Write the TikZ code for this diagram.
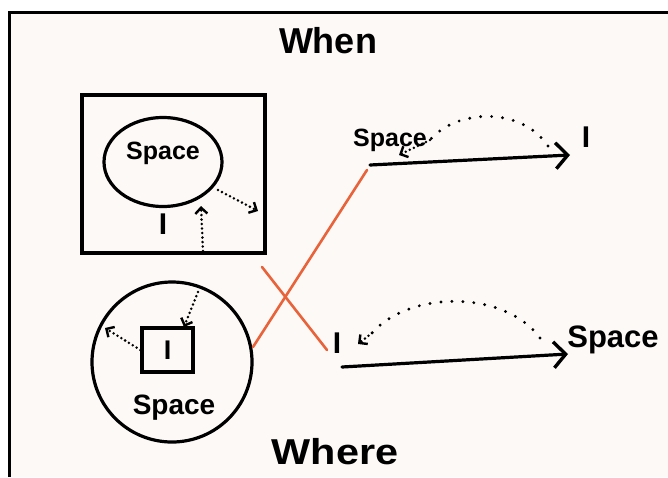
\documentclass[tikz,border=0pt]{standalone}
\usepackage{fontspec}
\setmainfont{Liberation Sans}
\usetikzlibrary{arrows.meta,shapes.geometric}
\definecolor{paper}{HTML}{FCF9F7}
\definecolor{orng}{HTML}{E8633A}
\begin{document}
\begin{tikzpicture}[x=1pt,y=-1pt,
  ink/.style={line width=3.2pt, draw=black},
  hand/.style={inner sep=0pt, text=black},
  dotline/.style={line width=2.8pt, line cap=round, dash pattern=on 0pt off 4.5pt},
  sparse/.style={line width=3.2pt, line cap=round, dash pattern=on 0pt off 11pt},
  smalltip/.style={-{Straight Barb[length=6pt,width=12pt,line width=2.4pt]}},
  bigtip/.style={-{Straight Barb[length=12pt,width=26pt,line width=3.4pt]}},
  solidarrow/.style={line width=3.2pt, line cap=round},
  cross/.style={draw=orng, line width=2.6pt, line cap=round}]
\useasboundingbox (0,0) rectangle (668,477);
\fill[white] (0,0) rectangle (668,477);
\fill[paper] (9,12) rectangle (668,477);
\draw[line width=3pt] (9,477) -- (9,12) -- (668,12);

% titles
\node[hand, font=\bfseries\fontsize{36}{40}\selectfont] (when) at (328,41) {When};
\node[hand, font=\bfseries\fontsize{36}{40}\selectfont, xscale=1.15] (where) at (335,452) {Where};

% top: square containing circle
\node[ink, rectangle, minimum width=183pt, minimum height=158pt] (box) at (173.5,174) {};
\node[ink, ellipse, minimum width=118pt, minimum height=89pt] (c1) at (163,162) {};
\node[hand, font=\bfseries\fontsize{25}{28}\selectfont] (sp1) at (163,153) {Space};
\node[hand, font=\bfseries\fontsize{30}{32}\selectfont] (i1) at (163,224) {I};
\coordinate (t1a) at (203,251);
\coordinate (t1b) at (201,206);
\draw[dotline, smalltip] (t1a) -- (t1b);
\coordinate (t2a) at (218,190);
\coordinate (t2b) at (258,211);
\draw[dotline, smalltip] (t2a) -- (t2b);

% bottom: circle containing square
\node[ink, circle, minimum size=160pt] (c2) at (172,362) {};
\node[ink, rectangle, minimum width=51pt, minimum height=44pt, hand,
      font=\bfseries\fontsize{27}{30}\selectfont] (sq) at (167.5,350) {I};
\node[hand, font=\bfseries\fontsize{28}{32}\selectfont] (sp2) at (174,408) {Space};
\coordinate (b1a) at (198,292);
\coordinate (b1t) at (184,327);
\draw[dotline, smalltip] (b1a) -- (b1t);
\coordinate (b1b) at (105,328);
\draw[dotline, smalltip] (sq.west) -- (b1b);

% top right: space -> I
\node[hand, font=\bfseries\fontsize{25}{28}\selectfont] (sp3) at (390,140) {Space};
\node[hand, font=\bfseries\fontsize{30}{32}\selectfont] (i3) at (586,137) {I};
\coordinate (r1s) at (370,165);
\coordinate (r1e) at (570,155);
\draw[solidarrow, bigtip] (r1s) -- (r1e);
\coordinate (r1d) at (548,146);
\coordinate (r1t) at (399,155);
\draw[sparse] (r1d) .. controls (520,105) and (455,110) .. (430,140);
\draw[dotline, smalltip] (430,140) -- (r1t);

% bottom right: I -> space
\node[hand, font=\bfseries\fontsize{30}{32}\selectfont] (i4) at (337,343) {I};
\node[hand, font=\bfseries\fontsize{31}{34}\selectfont] (sp4) at (613,340) {Space};
\coordinate (r2s) at (342,367);
\coordinate (r2e) at (568,354);
\draw[solidarrow, bigtip] (r2s) -- (r2e);
\coordinate (r2d) at (540,338);
\coordinate (r2t) at (358,344);
\draw[sparse] (r2d) .. controls (505,290) and (410,290) .. (372,333);
\draw[dotline, smalltip] (372,333) -- (r2t);

% orange crossing lines
\coordinate (o1a) at (253,347);
\coordinate (o1b) at (367,170);
\coordinate (o2a) at (262,267);
\coordinate (o2b) at (327,350);
\draw[cross] (o1a) -- (o1b);
\draw[cross] (o2a) -- (o2b);
\end{tikzpicture}
\end{document}
